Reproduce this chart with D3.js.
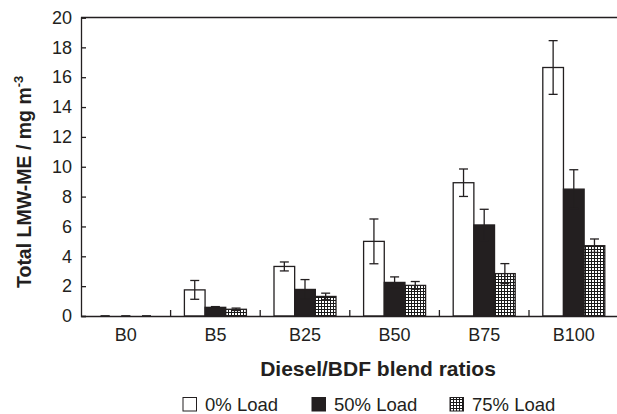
<!DOCTYPE html>
<html><head><meta charset="utf-8">
<script src="https://cdn.jsdelivr.net/npm/d3@7"></script>
<style>body{margin:0;background:#fff}svg{display:block;font-family:"Liberation Sans",Arial,sans-serif}</style>
</head><body><svg id="c" width="617" height="414"></svg>
<script>
const categories = ["B0","B5","B25","B50","B75","B100"];
const seriesNames = ["0% Load","50% Load","75% Load"];
const load0 = [0, 1.75, 3.32, 5.0, 8.93, 16.65];
const load0Err = [0, 0.63, 0.30, 1.5, 0.92, 1.8];
const load50 = [0, 0.58, 1.78, 2.25, 6.1, 8.5];
const load50Err = [0, 0.05, 0.66, 0.37, 1.05, 1.3];
const load75 = [0, 0.45, 1.31, 2.05, 2.84, 4.71];
const load75Err = [0, 0.08, 0.22, 0.26, 0.67, 0.45];
const yTicks = [0,2,4,6,8,10,12,14,16,18,20];

const svg = d3.select("#c");
const L = 81, R = 618.6, T = 17.5, B = 316;
const ink = "#231f20";
const x = d3.scaleBand().domain(categories).range([L, R]).padding(0);
const xs = d3.scaleBand().domain(seriesNames).range([13.8, 75.8]);
const y = d3.scaleLinear().domain([0, 20]).range([B, T]);

const defs = svg.append("defs");
const pat = defs.append("pattern").attr("id","chk").attr("patternUnits","userSpaceOnUse")
  .attr("width",3).attr("height",3);
pat.append("rect").attr("width",3).attr("height",3).attr("fill","#1a1a1a");
pat.append("rect").attr("x",1).attr("y",1).attr("width",2).attr("height",2).attr("fill","#fff");

const fills = ["#fff", ink, "url(#chk)"];
const vals = [load0, load50, load75];
const errs = [load0Err, load50Err, load75Err];

seriesNames.forEach((s, si) => {
  svg.append("g").selectAll("rect").data(categories).join("rect")
    .attr("x", c => x(c) + xs(s))
    .attr("y", (c, i) => y(vals[si][i]))
    .attr("width", xs.bandwidth())
    .attr("height", (c, i) => B - y(vals[si][i]))
    .attr("fill", fills[si])
    .attr("stroke", ink).attr("stroke-width", 1.3);
});
seriesNames.forEach((s, si) => {
  const g = svg.append("g").attr("stroke",ink).attr("stroke-width",1.3).attr("fill","none");
  categories.forEach((c, i) => {
    const cx = x(c) + xs(s) + xs.bandwidth()/2;
    const v = vals[si][i], e = errs[si][i];
    const y1 = y(v + e), y2 = y(Math.max(0, v - e));
    g.append("line").attr("x1",cx).attr("x2",cx).attr("y1",y1).attr("y2",y2);
    g.append("line").attr("x1",cx-4.5).attr("x2",cx+4.5).attr("y1",y1).attr("y2",y1);
    g.append("line").attr("x1",cx-4.5).attr("x2",cx+4.5).attr("y1",y2).attr("y2",y2);
  });
});

svg.append("line").attr("x1",L).attr("x2",R).attr("y1",T).attr("y2",T).attr("stroke",ink).attr("stroke-width",1.3);

const ya = svg.append("g").attr("transform",`translate(${L},0)`)
  .call(d3.axisLeft(y).tickValues(yTicks).tickSize(-5).tickPadding(9).tickFormat(d3.format("d")));
ya.select(".domain").attr("stroke",ink).attr("stroke-width",1.3);
ya.selectAll(".tick line").attr("stroke",ink).attr("stroke-width",1.3);
ya.selectAll("text").attr("font-size",18).attr("fill",ink).attr("font-family","Liberation Sans, Arial, sans-serif");

const xa = svg.append("g").attr("transform",`translate(0,${B})`)
  .call(d3.axisBottom(x).tickSize(0).tickPadding(12));
xa.select(".domain").attr("stroke",ink).attr("stroke-width",1.3);
xa.selectAll("text").attr("font-size",18).attr("fill",ink).attr("font-family","Liberation Sans, Arial, sans-serif");
svg.append("g").selectAll("line").data(categories.slice(1)).join("line")
  .attr("x1", c => x(c)).attr("x2", c => x(c)).attr("y1", B).attr("y2", B-6)
  .attr("stroke",ink).attr("stroke-width",1.3);

svg.append("text").attr("x", 378).attr("y", 376).attr("text-anchor","middle")
  .attr("font-size",21).attr("font-weight","bold").attr("fill",ink).text("Diesel/BDF blend ratios");
const yt = svg.append("text").attr("transform","translate(31,288) rotate(-90)").attr("text-anchor","start")
  .attr("font-size",19.5).attr("font-weight","bold").attr("fill",ink);
yt.append("tspan").text("Total LMW-ME / mg m");
yt.append("tspan").attr("dy",-8).attr("font-size",13).text("-3");

const legX = [183, 312, 450];
seriesNames.forEach((s, si) => {
  svg.append("rect").attr("x", legX[si]).attr("y", 397.5).attr("width", 13.5).attr("height", 13.5)
    .attr("fill", fills[si]).attr("stroke",ink).attr("stroke-width",1);
  svg.append("text").attr("x", legX[si] + 22).attr("y", 411).attr("font-size",18.5).attr("fill",ink).text(s);
});
</script></body></html>
